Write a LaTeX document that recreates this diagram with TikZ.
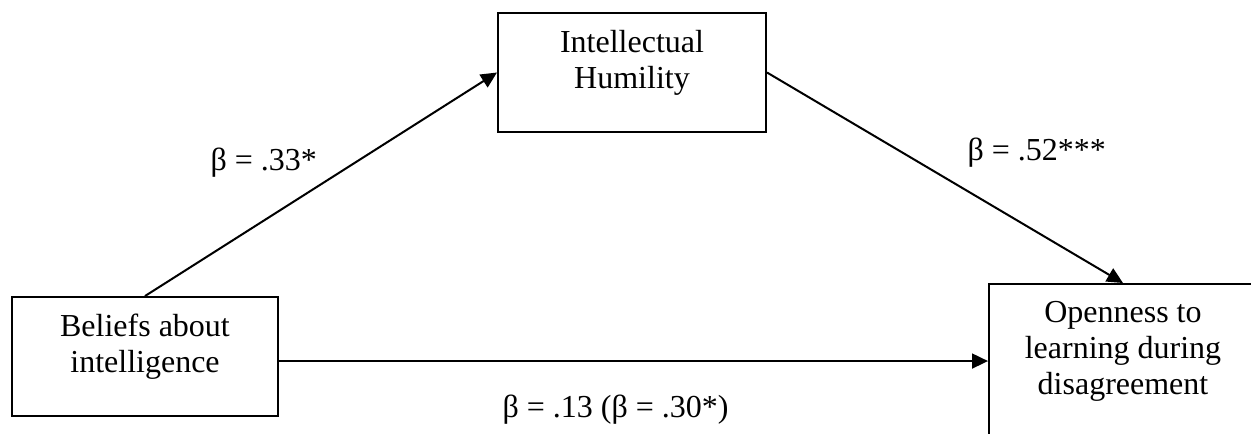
\documentclass[tikz,border=0pt]{standalone}
\usepackage{fontspec}
\setmainfont{Liberation Serif}
\usetikzlibrary{arrows.meta}
\begin{document}
\begin{tikzpicture}[x=0.375pt,y=-0.375pt,
  every node/.style={font=\fontsize{12pt}{13.5pt}\selectfont},
  box/.style={draw, line width=0.75pt, inner sep=0pt, rectangle},
  boxtext/.style={anchor=north, inner sep=0pt, align=center},
  lab/.style={anchor=base west, inner sep=0pt},
  arr/.style={-{Triangle[length=6pt,width=5.6pt]}, line width=0.75pt}
]
\useasboundingbox (0,0) rectangle (1251,433);
\clip (0,0) rectangle (1251,433);
\fill[white] (0,0) rectangle (1251,433);

% boxes
\node[box, minimum width=99.75pt, minimum height=44.6pt] (lb) at (145,356.5) {};
\node[box, minimum width=100.5pt, minimum height=44.6pt] (tb) at (632,72.5) {};
\node[box, minimum width=100.5pt, minimum height=66pt] (rb) at (1123,372) {};

% box texts
\node[boxtext] (lbt) at ([yshift=-5pt]lb.north) {\rule{0pt}{10pt}Beliefs about\\intelligence};
\node[boxtext] (tbt) at ([yshift=-5pt]tb.north) {\rule{0pt}{10pt}Intellectual\\Humility};
\node[boxtext] (rbt) at ([yshift=-4.6pt]rb.north) {\rule{0pt}{10pt}Openness to\\learning during\\disagreement};

% connectors
\draw[arr] (lb.north) -- (tb.west);
\draw[arr] (tb.east) -- (rb.north);
\coordinate (h1) at ([yshift=-1.7pt]lb.east);
\draw[arr] (h1) -- (h1 -| rb.west);

% labels
\node[lab] (l1) at (210,170) {β = .33*};
\node[lab] (l2) at (967,160) {β = .52***};
\node[lab] (l3) at (502,417) {β = .13 (β = .30*)};
\end{tikzpicture}
\end{document}
